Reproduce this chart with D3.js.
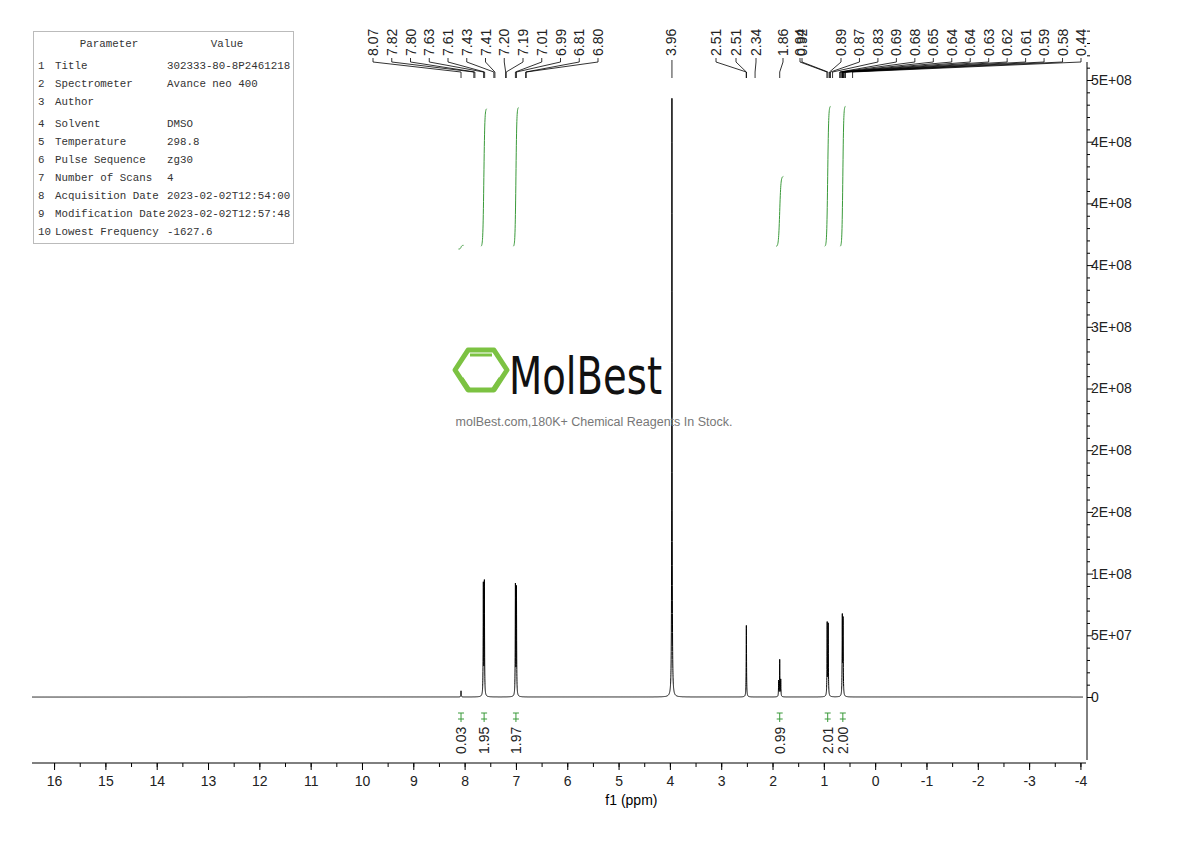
<!DOCTYPE html>
<html><head><meta charset="utf-8">
<script src="https://cdn.jsdelivr.net/npm/d3@7"></script>
<style>body{margin:0;background:#fff}</style>
</head><body>
<script>
// peaks: [ppm, height, half-width ppm]
const peaks = [
  [8.07, 5e6, 0.004],
  [7.635, 9.0e7, 0.004], [7.615, 9.2e7, 0.004],
  [7.01, 8.9e7, 0.004], [6.99, 8.7e7, 0.004],
  [3.96, 4.9e8, 0.004],
  [2.51, 5.8e7, 0.004],
  [1.88, 1.3e7, 0.004], [1.86, 3.0e7, 0.003], [1.84, 1.4e7, 0.004],
  [0.935, 5.9e7, 0.004], [0.915, 5.8e7, 0.004],
  [0.64, 6.4e7, 0.004], [0.625, 6.1e7, 0.004]
];
// integral curves: [from ppm, to ppm, start value, end value]
const integrals = [
  [8.12, 8.02, 3.63e8, 3.66e8],
  [7.68, 7.57, 3.65e8, 4.77e8],
  [7.05, 6.95, 3.65e8, 4.78e8],
  [1.93, 1.79, 3.65e8, 4.22e8],
  [0.98, 0.87, 3.65e8, 4.79e8],
  [0.68, 0.58, 3.65e8, 4.79e8]
];
const integralLabels = [[8.07, "0.03"], [7.62, "1.95"], [7.00, "1.97"], [1.86, "0.99"], [0.925, "2.01"], [0.63, "2.00"]];
// label groups: labels, peak ppm for each, pixel span of the label row
const labelGroups = [
  {labels: ["8.07","7.82","7.80","7.63","7.61","7.43","7.41","7.20","7.19","7.01","6.99","6.81","6.80"],
   ppm: [8.07,7.82,7.80,7.63,7.61,7.43,7.41,7.20,7.19,7.01,6.99,6.81,6.80], span: [373, 598]},
  {labels: ["3.96"], ppm: [3.96], span: [671, 671]},
  {labels: ["2.51","2.51","2.34"], ppm: [2.51,2.51,2.34], span: [716, 756]},
  {labels: ["1.86"], ppm: [1.86], span: [783, 783]},
  {labels: ["0.94","0.92"], ppm: [0.94,0.92], span: [800, 802]},
  {labels: ["0.89","0.87","0.83","0.69","0.68","0.65","0.64","0.64","0.63","0.62","0.61","0.59","0.58","0.44"],
   ppm: [0.89,0.87,0.83,0.69,0.68,0.65,0.64,0.64,0.63,0.62,0.61,0.59,0.58,0.44], span: [841, 1081]}
];
const yTicks = [0, 5e7, 1e8, 1.5e8, 2e8, 2.5e8, 3e8, 3.5e8, 4e8, 4.5e8, 5e8];
const xTicks = d3.range(16, -5, -1);
const params = [
  ["1", "Title", "302333-80-8P2461218"], ["2", "Spectrometer", "Avance neo 400"],
  ["3", "Author", ""], ["4", "Solvent", "DMSO"], ["5", "Temperature", "298.8"],
  ["6", "Pulse Sequence", "zg30"], ["7", "Number of Scans", "4"],
  ["8", "Acquisition Date", "2023-02-02T12:54:00"], ["9", "Modification Date", "2023-02-02T12:57:48"],
  ["10", "Lowest Frequency", "-1627.6"]
];

const W = 1190, H = 841;
const svg = d3.select("body").append("svg").attr("width", W).attr("height", H)
  .style("font-family", "Liberation Sans, Arial, sans-serif");

const x = d3.scaleLinear().domain([16.43, -4.05]).range([32, 1083]);
const y = d3.scaleLinear().domain([0, 5e8]).range([697, 80]);

// spectrum
const pts = [];
for (let p = 16.43; p >= -4.05; p -= 0.0008) {
  let v = 0;
  for (const [c, h, w] of peaks) v += h * w * w / ((p - c) * (p - c) + w * w);
  pts.push([p, v]);
}
svg.append("path").datum(pts).attr("fill", "none").attr("stroke", "#000").attr("stroke-width", 1)
  .attr("d", d3.line().x(d => x(d[0])).y(d => y(d[1])));

// integral curves
integrals.forEach(([a, b, v0, v1]) => {
  const seg = d3.range(0, 1.0001, 0.02).map(t => {
    const s = 1 / (1 + Math.exp(-(t - 0.5) * 12));
    return [a + (b - a) * t, v0 + (v1 - v0) * s];
  });
  svg.append("path").datum(seg).attr("fill", "none").attr("stroke", "#3a9a3a").attr("stroke-width", 1)
    .attr("d", d3.line().x(d => x(d[0])).y(d => y(d[1])));
});

// integral labels
integralLabels.forEach(([p, t]) => {
  const g = svg.append("g").attr("transform", `translate(${x(p)},0)`);
  g.append("path").attr("d", "M-3,713H3M-3,719H3M0,713V722").attr("stroke", "#3a9a3a").attr("fill", "none");
  g.append("text").attr("transform", "translate(5,754) rotate(-90)").attr("font-size", 14).attr("fill", "#222").text(t);
});

// bottom axis
svg.append("g").attr("transform", "translate(0,763)")
  .call(d3.axisBottom(x).tickValues(d3.range(16, -4.5, -0.5)).tickSize(4).tickFormat(""))
  .call(g => g.select(".domain").attr("d", "M32,0H1086"));
svg.append("g").attr("transform", "translate(0,763)")
  .call(d3.axisBottom(x).tickValues(xTicks).tickSize(7).tickFormat(d => d))
  .call(g => g.select(".domain").remove())
  .call(g => g.selectAll("text").attr("font-size", 14).attr("dy", "0.9em").attr("fill", "#222"));
svg.append("text").attr("x", x(4.75)).attr("y", 805).attr("text-anchor", "middle").attr("font-size", 14).text("f1 (ppm)");

// right axis (one significant digit, round half to even)
const fmt = d => {
  if (d === 0) return "0";
  const e = Math.floor(Math.log10(d)), r = d / 10 ** e;
  let m = Math.round(r);
  if (Math.abs(r - Math.floor(r) - 0.5) < 1e-9) m = Math.floor(r) % 2 === 0 ? Math.floor(r) : Math.ceil(r);
  return m + "E+" + String(e).padStart(2, "0");
};
svg.append("g").attr("transform", "translate(1087,0)")
  .call(d3.axisRight(y).tickValues(yTicks).tickSize(6).tickFormat(fmt))
  .call(g => g.select(".domain").attr("d", "M0,62V760"))
  .call(g => g.selectAll("text").attr("font-size", 14).attr("x", 4).attr("fill", "#222"));
svg.append("g").attr("transform", "translate(1087,0)")
  .call(d3.axisRight(y).tickValues(d3.range(1e7, 5.5e8, 1e7).filter(v => v % 5e7)).tickSize(3).tickFormat(""))
  .call(g => g.select(".domain").remove());

// peak labels
labelGroups.forEach(gr => {
  const n = gr.labels.length;
  gr.labels.forEach((t, i) => {
    const lx = n > 1 ? gr.span[0] + (gr.span[1] - gr.span[0]) * i / (n - 1) : gr.span[0];
    const px = x(gr.ppm[i]);
    svg.append("text").attr("transform", `translate(${lx + 5},56) rotate(-90)`)
      .attr("font-size", 14).attr("fill", "#222").text(t);
    svg.append("path").attr("fill", "none").attr("stroke", "#000").attr("stroke-width", 0.8)
      .attr("d", n === 1 && Math.abs(lx - px) < 2 ? `M${px},60V78` : `M${lx},58V62L${px},72V78`);
  });
});

// parameter table
const tb = svg.append("g").style("font-family", "Liberation Mono, DejaVu Sans Mono, monospace").attr("font-size", 10.8).attr("fill", "#333");
tb.append("rect").attr("x", 33.5).attr("y", 31.5).attr("width", 260).attr("height", 212).attr("fill", "#fff").attr("stroke", "#bbb");
tb.append("text").attr("x", 109).attr("y", 47).attr("text-anchor", "middle").text("Parameter");
tb.append("text").attr("x", 227).attr("y", 47).attr("text-anchor", "middle").text("Value");
const rowY = [69, 87, 105, 127, 145, 163, 181, 199, 217, 235];
params.forEach((r, i) => {
  tb.append("text").attr("x", 38).attr("y", rowY[i]).text(r[0]);
  tb.append("text").attr("x", 55).attr("y", rowY[i]).text(r[1]);
  tb.append("text").attr("x", 167).attr("y", rowY[i]).text(r[2]);
});

// watermark
const wm = svg.append("g");
const hex = d3.range(6).map(k => [481 + 26 * Math.cos(Math.PI / 3 * k), 370 + 23 * Math.sin(Math.PI / 3 * k)]);
wm.append("path").attr("d", "M" + hex.join("L") + "Z").attr("fill", "none").attr("stroke", "#7cc242").attr("stroke-width", 5).attr("stroke-linejoin", "round");
wm.append("path").attr("d", "M470,355H492M462,378L470,390M500,378L492,390").attr("stroke", "#7cc242").attr("stroke-width", 3);
wm.append("text").attr("x", 509).attr("y", 394).attr("font-size", 52).attr("font-family", "DejaVu Sans Condensed, Liberation Sans Narrow, sans-serif")
  .attr("textLength", 153).attr("lengthAdjust", "spacingAndGlyphs").attr("fill", "#111").text("MolBest");
wm.append("text").attr("x", 594).attr("y", 426).attr("text-anchor", "middle").attr("font-size", 12.5).attr("fill", "#777")
  .text("molBest.com,180K+ Chemical Reagents In Stock.");
</script>
</body></html>
